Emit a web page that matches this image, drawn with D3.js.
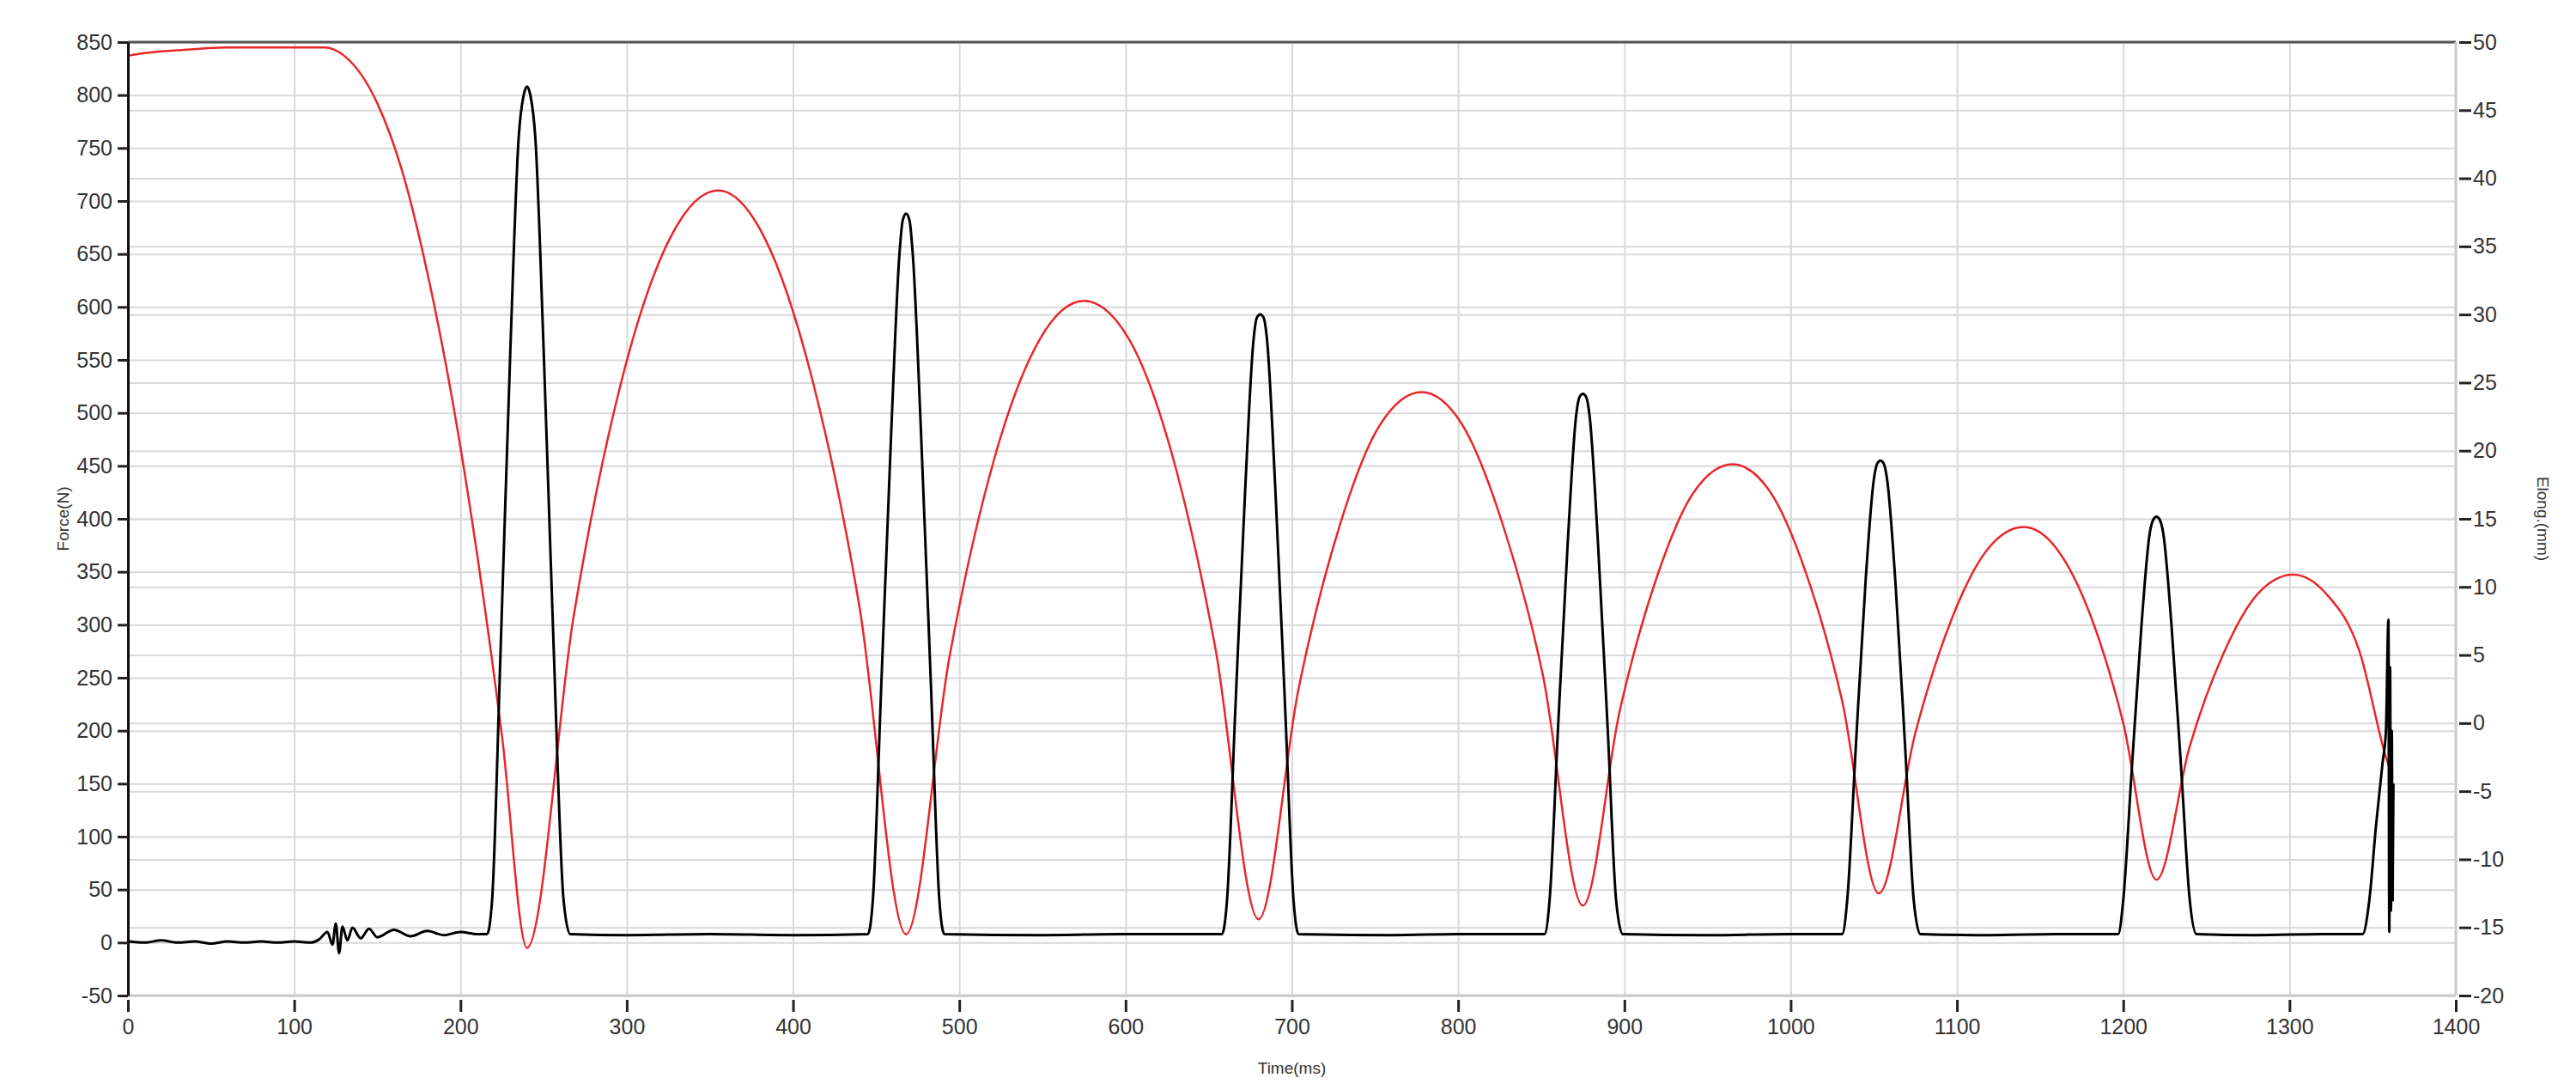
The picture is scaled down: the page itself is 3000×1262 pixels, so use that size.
<!DOCTYPE html>
<html>
<head>
<meta charset="utf-8">
<script src="https://cdn.jsdelivr.net/npm/d3@7"></script>
<style>
  body { margin: 0; background: #fff; }
  .tick text { font-family: Arial, "Liberation Sans", sans-serif; font-size: 25px; fill: #333; }
  .axis-title { font-family: Arial, "Liberation Sans", sans-serif; font-size: 19px; fill: #333; }
</style>
</head>
<body>
<div class="container"></div>
<script>
const xTicks = d3.range(0, 1401, 100);
const forceTicks = d3.range(-50, 851, 50);
const elongTicks = d3.range(-20, 51, 5);

// Force(N), black trace: [time ms, force N]
const force = [
  [0,1],[10,0],[20,2],[30,0],[40,1],[50,-1],[60,1],[70,0],[80,1],[90,0],[100,1],[110,0],[115,3],
  [120,10],[123,-2],[125,18],[127,-10],[129,15],[132,2],[135,14],[140,4],[145,13],[150,5],[160,12],
  [170,6],[180,11],[190,7],[200,10],[210,8],[216,8],
  [219,40],[224,270],[230,560],[235,760],[238,800],[240,808],[242,800],[245,760],[250,560],[256,280],[262,40],[266,8],
  [300,7],[350,8],[400,7],[445,8],
  [448,40],[453,240],[459,480],[464,650],[466,682],[468,688],[470,682],[472,650],[477,480],[483,240],[488,40],[491,8],
  [550,7],[600,8],[658,8],
  [661,40],[666,220],[672,430],[677,570],[679,590],[681,593],[683,590],[685,570],[690,430],[696,220],[701,40],[704,8],
  [760,7],[800,8],[852,8],
  [855,40],[860,200],[866,380],[871,498],[873,515],[875,518],[877,515],[879,498],[884,380],[890,200],[895,40],[899,8],
  [950,7],[1000,8],[1031,8],
  [1034,40],[1039,180],[1045,340],[1050,437],[1052,452],[1054,455],[1056,452],[1058,437],[1063,340],[1069,180],[1074,40],[1078,8],
  [1120,7],[1160,8],[1197,8],
  [1200,40],[1205,160],[1211,300],[1216,387],[1218,399],[1220,402],[1222,399],[1224,387],[1229,300],[1235,160],[1240,40],[1244,8],
  [1280,7],[1320,8],[1344,8],
  [1348,40],[1352,110],[1356,170],[1358,200],[1359.5,305],[1360,10],[1360.5,260],[1361,30],[1361.5,200],[1362,40],[1362.5,150]
];

// Elong.(mm), red trace: [time ms, elongation mm]
const elong = [
  [0,49.0],[10,49.2],[30,49.4],[60,49.6],[118,49.6],[130,49.0],[150,45.5],[165,40.5],[180,33.1],[195,23.8],[210,12.4],[225,-1],[240,-16.5],
  [268,7.8],[297,25.2],[326,35.6],[355,39.1],[383,35.6],[411,25.5],[440,8.5],[468,-15.5],
  [494,4.8],[521,19.4],[548,28.1],[575,31.0],[602,28.2],[628,19.7],[654,5.5],[680,-14.4],
  [704,2.5],[729,14.6],[753,21.9],[778,24.3],[802,22.0],[826,14.9],[851,3.5],[875,-13.4],
  [897,0.8],[920,10.9],[942,17.0],[965,19.0],[987,17.1],[1009,11.1],[1031,1.6],[1053,-12.5],
  [1075,-0.7],[1097,7.7],[1118,12.7],[1140,14.4],[1160,12.8],[1180,8.0],[1200,0],[1220,-11.5],
  [1240,-1.7],[1261,5.3],[1281,9.5],[1302,10.9],[1322,9.5],[1342,5.3],[1358,-2.5],[1362,-4]
];

const width = 3000, height = 1262;
const margin = {left: 149, right: 140, top: 49, bottom: 103};
const plotW = width - margin.left - margin.right;
const plotH = height - margin.top - margin.bottom;

const svg = d3.select(".container").append("svg")
  .attr("width", width).attr("height", height);
const g = svg.append("g").attr("transform", `translate(${margin.left},${margin.top})`);

const x = d3.scaleLinear().domain([0, 1400]).range([0, plotW]);
const yF = d3.scaleLinear().domain([-50, 850]).range([plotH, 0]);
const yE = d3.scaleLinear().domain([-20, 50]).range([plotH, 0]);
const fmt = d => String(d);

const gridColor = "#d9d9d9";
g.append("g").attr("transform", `translate(0,${plotH})`)
  .call(d3.axisBottom(x).tickValues(xTicks).tickSize(-plotH).tickFormat(""))
  .call(s => s.selectAll("line").attr("stroke", gridColor).attr("stroke-width", 2))
  .call(s => s.select(".domain").remove());
g.append("g")
  .call(d3.axisLeft(yF).tickValues(forceTicks).tickSize(-plotW).tickFormat(""))
  .call(s => s.selectAll("line").attr("stroke", gridColor).attr("stroke-width", 2))
  .call(s => s.select(".domain").remove());
g.append("g")
  .call(d3.axisLeft(yE).tickValues(elongTicks).tickSize(-plotW).tickFormat(""))
  .call(s => s.selectAll("line").attr("stroke", gridColor).attr("stroke-width", 2))
  .call(s => s.select(".domain").remove());

// frame
g.append("line").attr("x1", 0).attr("x2", plotW).attr("y1", 0).attr("y2", 0).attr("stroke", "#555").attr("stroke-width", 3);
g.append("line").attr("x1", plotW).attr("x2", plotW).attr("y1", 0).attr("y2", plotH).attr("stroke", "#ccc").attr("stroke-width", 3);
g.append("line").attr("x1", 0).attr("x2", plotW).attr("y1", plotH).attr("y2", plotH).attr("stroke", "#ccc").attr("stroke-width", 3);

const lineF = d3.line().x(d => x(d[0])).y(d => yF(d[1])).curve(d3.curveMonotoneX);
const lineE = d3.line().x(d => x(d[0])).y(d => yE(d[1])).curve(d3.curveMonotoneX);

g.append("path").datum(elong).attr("d", lineE)
  .attr("fill", "none").attr("stroke", "#e8262b").attr("stroke-width", 2.5);
g.append("path").datum(force).attr("d", lineF)
  .attr("fill", "none").attr("stroke", "#000").attr("stroke-width", 3);

function styleAxis(s) {
  s.select(".domain").attr("stroke", "#111").attr("stroke-width", 3);
  s.selectAll(".tick line").attr("stroke", "#222").attr("stroke-width", 3);
}
g.append("g").attr("transform", `translate(0,${plotH + 5})`)
  .call(d3.axisBottom(x).tickValues(xTicks).tickFormat(fmt).tickSize(14).tickSizeOuter(0).tickPadding(8))
  .call(s => { s.select(".domain").remove(); s.selectAll(".tick line").attr("stroke", "#222").attr("stroke-width", 3); });
g.append("g")
  .call(d3.axisLeft(yF).tickValues(forceTicks).tickFormat(fmt).tickSize(12).tickSizeOuter(0).tickPadding(6))
  .call(styleAxis);
g.append("g").attr("transform", `translate(${plotW + 4},0)`)
  .call(d3.axisRight(yE).tickValues(elongTicks).tickFormat(fmt).tickSize(14).tickSizeOuter(0).tickPadding(2))
  .call(s => { s.select(".domain").remove(); s.selectAll(".tick line").attr("stroke", "#222").attr("stroke-width", 3); });

svg.append("text").attr("class", "axis-title")
  .attr("x", margin.left + plotW / 2).attr("y", 1250).attr("text-anchor", "middle")
  .text("Time(ms)");
svg.append("text").attr("class", "axis-title")
  .attr("text-anchor", "middle")
  .attr("transform", `translate(80,${margin.top + plotH / 2}) rotate(-90)`)
  .text("Force(N)");
svg.append("text").attr("class", "axis-title")
  .attr("text-anchor", "middle")
  .attr("transform", `translate(2955,${margin.top + plotH / 2}) rotate(90)`)
  .text("Elong.(mm)");
</script>
</body>
</html>
